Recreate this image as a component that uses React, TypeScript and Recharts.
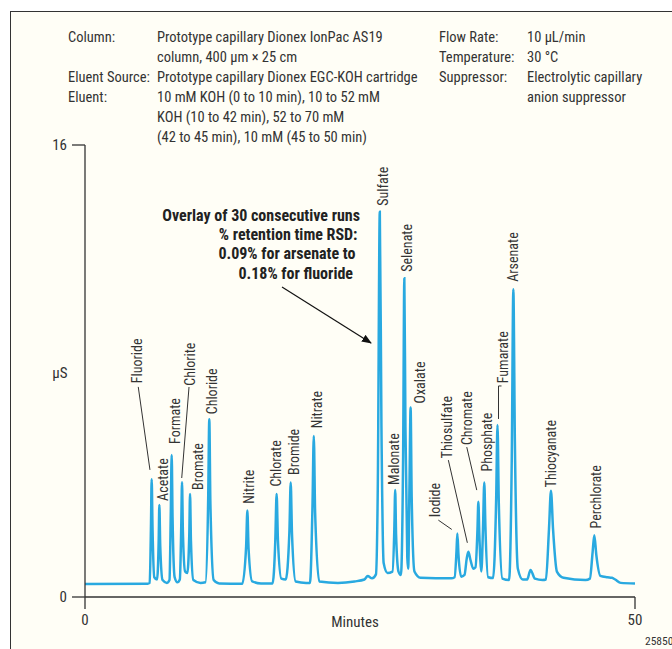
import { LineChart, Line, XAxis, YAxis, ReferenceDot } from 'recharts'

// peaks (retention time in minutes, apex in µS)
const peakNames = [
  'Fluoride', 'Acetate', 'Formate', 'Chlorite', 'Bromate', 'Chloride', 'Nitrite',
  'Chlorate', 'Bromide', 'Nitrate', 'Sulfate', 'Malonate', 'Selenate', 'Oxalate',
  'Iodide', 'Thiosulfate', 'Chromate', 'Phosphate', 'Fumarate', 'Arsenate',
  'Thiocyanate', 'Perchlorate',
]
const peakTimes = [
  6.06, 6.76, 7.88, 8.82, 9.55, 11.3, 14.76, 17.42, 18.7, 20.8, 26.8, 28.2, 29.03,
  29.6, 33.85, 34.85, 35.76, 36.3, 37.5, 38.94, 42.36, 46.3,
]
const peakHeights = [
  4.17, 3.26, 5.03, 4.06, 3.65, 6.29, 3.06, 3.65, 4.05, 5.7, 13.64, 3.79, 11.28,
  6.71, 2.25, 1.6, 3.37, 4.05, 6.09, 10.89, 3.76, 2.19,
]

// detector trace [minutes, µS]
const trace: [number, number][] = [
  [0, 0.46], [5.7, 0.47],
  [5.88, 0.5], [6.0, 2.6], [6.06, 4.17], [6.14, 2.4], [6.3, 0.7],
  [6.55, 0.62], [6.7, 2.0], [6.76, 3.26], [6.84, 1.8], [7.05, 0.6],
  [7.45, 0.5], [7.68, 0.6], [7.8, 3.0], [7.88, 5.03], [7.96, 2.8], [8.15, 0.7],
  [8.4, 0.52], [8.62, 0.62], [8.75, 2.5], [8.82, 4.06], [8.9, 2.3], [9.1, 0.9],
  [9.3, 0.85], [9.48, 2.2], [9.55, 3.65], [9.63, 2.0], [9.85, 0.6],
  [10.5, 0.5],
  [10.95, 0.52], [11.2, 3.5], [11.3, 6.29], [11.4, 3.3], [11.7, 0.6], [12.2, 0.48],
  [14.3, 0.47], [14.65, 1.8], [14.76, 3.06], [14.87, 1.7], [15.2, 0.55], [16.0, 0.48],
  [17.05, 0.48], [17.3, 2.0], [17.42, 3.65], [17.54, 2.0], [17.85, 0.65],
  [18.25, 0.62], [18.58, 2.3], [18.7, 4.05], [18.82, 2.2], [19.15, 0.55], [20.1, 0.5],
  [20.45, 0.5], [20.68, 3.2], [20.8, 5.7], [20.92, 3.0], [21.3, 0.55], [23.0, 0.5],
  [24.5, 0.55], [25.4, 0.62], [25.7, 0.74], [26.1, 0.66], [26.45, 0.8],
  [26.62, 4.0], [26.8, 13.64], [26.95, 6.0], [27.15, 1.2], [27.5, 0.85],
  [27.95, 0.9], [28.12, 2.4], [28.2, 3.79], [28.28, 2.2], [28.5, 0.9],
  [28.72, 0.78], [28.92, 5.0], [29.03, 11.28], [29.13, 6.0], [29.3, 1.4],
  [29.38, 1.0], [29.5, 4.0], [29.6, 6.71], [29.7, 3.5], [29.95, 0.9], [30.5, 0.68],
  [33.3, 0.66],
  [33.6, 0.7], [33.77, 1.6], [33.85, 2.25], [33.95, 1.5], [34.2, 0.72],
  [34.5, 0.78], [34.7, 1.35], [34.85, 1.6], [35.05, 1.3], [35.3, 1.0],
  [35.5, 1.05], [35.68, 2.4], [35.76, 3.37], [35.85, 2.2], [36.03, 0.9],
  [36.18, 2.4], [36.3, 4.05], [36.4, 2.5], [36.65, 0.7],
  [37.1, 0.67], [37.38, 3.5], [37.5, 6.09], [37.62, 3.3], [37.95, 0.65],
  [38.55, 0.6], [38.8, 5.0], [38.94, 10.89], [39.08, 5.5], [39.35, 1.0], [39.8, 0.62],
  [40.2, 0.62], [40.5, 0.96], [40.9, 0.65], [41.6, 0.6],
  [41.9, 0.62], [42.18, 2.4], [42.36, 3.76], [42.55, 2.4], [42.9, 0.9], [43.5, 0.68],
  [45.5, 0.6],
  [45.9, 0.65], [46.15, 1.6], [46.3, 2.19], [46.48, 1.5], [46.85, 0.75], [47.5, 0.7],
  [47.9, 0.68], [48.2, 0.62], [48.7, 0.5], [50, 0.48],
]

const xTicks = [0, 50]
const yTicks = [0, 16]

const headerLeft = [
  ['Column:', 'Prototype capillary Dionex IonPac AS19'],
  ['', 'column, 400 µm × 25 cm'],
  ['Eluent Source:', 'Prototype capillary Dionex EGC-KOH cartridge'],
  ['Eluent:', '10 mM KOH (0 to 10 min), 10 to 52 mM'],
  ['', 'KOH (10 to 42 min), 52 to 70 mM'],
  ['', '(42 to 45 min), 10 mM (45 to 50 min)'],
]
const headerRight = [
  ['Flow Rate:', '10 µL/min'],
  ['Temperature:', '30 °C'],
  ['Suppressor:', 'Electrolytic capillary'],
  ['', 'anion suppressor'],
]
const noteLines = [
  'Overlay of 30 consecutive runs',
  '% retention time RSD:',
  '0.09% for arsenate to',
  '0.18% for fluoride',
]

// label placement relative to each apex, in px
const labelLayout: Record<string, { dx: number; dy: number; leader?: number[][] }> = {
  Fluoride: { dx: -14.4, dy: -96, leader: [[-13.4, -92.3], [-1.7, -9.3]] },
  Acetate: { dx: 3.4, dy: -4 },
  Formate: { dx: 3.3, dy: -11 },
  Chlorite: { dx: 8, dy: -96.6, leader: [[7, -95.3], [-0.3, -4.3]] },
  Bromate: { dx: 8.3, dy: -4 },
  Chloride: { dx: 3, dy: -5 },
  Nitrite: { dx: 2, dy: -6.7 },
  Chlorate: { dx: -0.7, dy: -7.3 },
  Bromide: { dx: 3.3, dy: -7.7 },
  Nitrate: { dx: 2.7, dy: -7.7 },
  Sulfate: { dx: 2.7, dy: -6 },
  Malonate: { dx: -1.7, dy: -5 },
  Selenate: { dx: 2.4, dy: -6.6 },
  Oxalate: { dx: 9.3, dy: -4 },
  Iodide: { dx: -22.3, dy: -16.3, leader: [[-19, -13.3], [-5.6, -4]] },
  Thiosulfate: { dx: -21, dy: -93.4, leader: [[-20, -91.7], [-1, -9]] },
  Chromate: { dx: -11.6, dy: -56.7, leader: [[-11.6, -54.7], [-1.6, -11.7]] },
  Phosphate: { dx: 2.4, dy: -11 },
  Fumarate: { dx: 5, dy: -41.7, leader: [[4, -39], [1, -39], [1, -6]] },
  Arsenate: { dx: 0, dy: -7.6 },
  Thiocyanate: { dx: 0, dy: -3.4 },
  Perchlorate: { dx: 1.7, dy: -6.7 },
}

const NARROW = '"Liberation Sans Narrow", "Roboto Condensed", "Arial Narrow", "Liberation Sans", sans-serif'
const INK = '#333'
const TRACE = '#29a9e0'

const data = trace.map(([t, v]) => ({ t, v }))

function PeakLabel(props: any) {
  const { cx, cy, name } = props
  if (cx == null || cy == null) return <g />
  const o = labelLayout[name]
  const x = cx + o.dx
  const y = cy + o.dy
  return (
    <g>
      {o.leader ? (
        <polyline
          points={o.leader.map(([a, b]) => `${cx + a},${cy + b}`).join(' ')}
          fill="none"
          stroke={INK}
          strokeWidth={1}
        />
      ) : null}
      <text
        transform={`translate(${x},${y}) rotate(-90)`}
        textAnchor="start"
        dominantBaseline="central"
        fill={INK}
        fontSize={14}
        fontFamily={NARROW}
      >
        {name}
      </text>
    </g>
  )
}

export default function App() {
  return (
    <div style={{ position: 'absolute', left: 0, top: 0, width: 672, height: 649, overflow: 'hidden', background: '#fff' }}>
      <div
        style={{
          position: 'absolute', left: 10, top: 11, width: 700, height: 700,
          borderLeft: `1.5px solid ${INK}`, borderTop: `1.5px solid ${INK}`, background: '#fffef6',
        }}
      />
      <div style={{ position: 'absolute', left: 0, top: 0 }}>
        <LineChart width={672} height={649} data={data} margin={{ top: 145, right: 37, bottom: 22, left: 25 }}>
          <XAxis
            dataKey="t"
            type="number"
            domain={[0, 50]}
            ticks={xTicks}
            tickSize={12}
            tickMargin={5}
            height={30}
            axisLine={{ stroke: INK, strokeWidth: 1.3 }}
            tickLine={{ stroke: INK, strokeWidth: 1.3 }}
            tick={{ fill: INK, fontSize: 15, fontFamily: NARROW }}
          />
          <YAxis
            type="number"
            domain={[0, 16]}
            ticks={yTicks}
            tickSize={13}
            tickMargin={5}
            width={60}
            axisLine={{ stroke: INK, strokeWidth: 1.3 }}
            tickLine={{ stroke: INK, strokeWidth: 1.3 }}
            tick={{ fill: INK, fontSize: 15, fontFamily: NARROW }}
          />
          <Line
            type="monotone"
            dataKey="v"
            stroke={TRACE}
            strokeWidth={2.5}
            dot={false}
            isAnimationActive={false}
          />
          {peakNames.map((name, i) => (
            <ReferenceDot
              key={name}
              x={peakTimes[i]}
              y={peakHeights[i]}
              r={0}
              ifOverflow="visible"
              shape={(p: any) => <PeakLabel {...p} name={name} />}
            />
          ))}
        </LineChart>
      </div>
      <svg width={672} height={649} style={{ position: 'absolute', left: 0, top: 0, pointerEvents: 'none' }}>
        <g fill={INK} fontFamily={NARROW} fontSize={14.5}>
          {headerLeft.map(([k, v], i) => (
            <g key={i}>
              <text x={68} y={42 + i * 19.9}>{k}</text>
              <text x={157} y={42 + i * 19.9}>{v}</text>
            </g>
          ))}
          {headerRight.map(([k, v], i) => (
            <g key={i}>
              <text x={439} y={42 + i * 19.9}>{k}</text>
              <text x={527} y={42 + i * 19.9}>{v}</text>
            </g>
          ))}
          <text x={60} y={378} textAnchor="middle" fontSize={15}>µS</text>
          <text x={355} y={627} textAnchor="middle" fontSize={15}>Minutes</text>
          <text x={645} y={645} fontSize={11.5}>25850</text>
        </g>
        <g fill="#222" fontFamily={NARROW} fontSize={16} fontWeight="bold" textAnchor="end">
          {noteLines.map((s, i) => (
            <text key={i} x={[360, 357.5, 355.5, 353][i]} y={221 + i * 19.2}>{s}</text>
          ))}
        </g>
        <defs>
          <marker id="ah" markerWidth="10" markerHeight="8" refX="9" refY="4" orient="auto" markerUnits="userSpaceOnUse">
            <path d="M0,0 L10,4 L0,8 Z" fill="#111" />
          </marker>
        </defs>
        <line x1={282} y1={287} x2={371} y2={343} stroke="#111" strokeWidth={1.2} markerEnd="url(#ah)" />
      </svg>
    </div>
  )
}
